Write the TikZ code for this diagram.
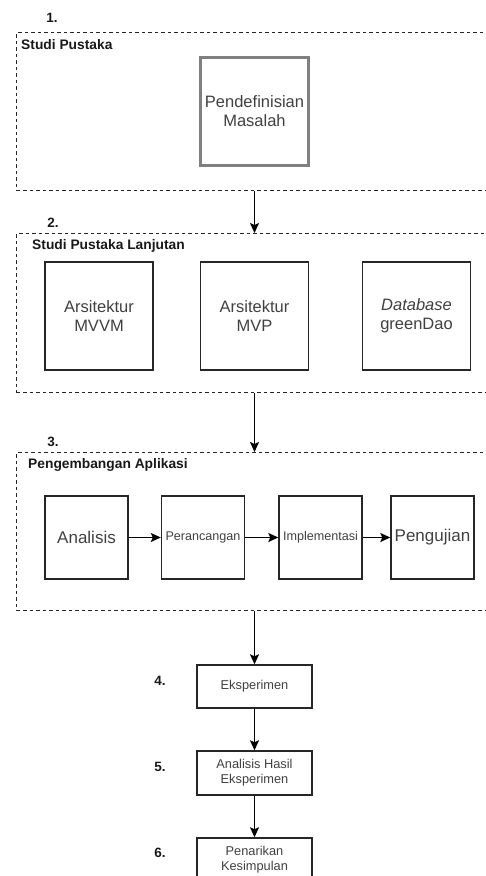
\documentclass[tikz,border=0pt]{standalone}
\usepackage{fontspec}
\setmainfont{Liberation Sans}
\usetikzlibrary{arrows.meta,positioning,calc}

\begin{document}
\begin{tikzpicture}[x=1pt,y=-1pt,
	grp/.style={draw=black!85, dash pattern=on 3.5pt off 3pt, line width=1pt, minimum width=476pt, inner sep=0pt},
	grptitle/.style={anchor=west, inner sep=0pt, font=\fontsize{13.8}{16}\selectfont\bfseries, text=black!90},
	num/.style={inner sep=0pt, font=\fontsize{13.5}{15}\selectfont\bfseries, text=black!90},
	bigbox/.style={draw=black!85, line width=1.4pt, minimum width=108pt, minimum height=108pt, inner sep=0pt, align=center, text=black!75, font=\fontsize{16.5}{19}\selectfont},
	midbox/.style={draw=black!85, line width=1.4pt, minimum width=83pt, minimum height=83pt, inner sep=0pt, align=center, text=black!75},
	smallbox/.style={draw=black!85, line width=1.4pt, minimum width=115pt, minimum height=43pt, inner sep=0pt, align=center, text=black!75, font=\fontsize{12.8}{15}\selectfont},
	arr/.style={-{Stealth[length=10pt,width=9pt,inset=2pt]}, line width=1.5pt}
	]
	\useasboundingbox (0,0) rectangle (486,876);
	\clip (0,0) rectangle (486,876);

	% dashed groups
	\node [grp, minimum height=158pt, anchor=north west] (g1) at (16,32) {};
	\node [grp, minimum height=159pt, anchor=north west] (g2) at (16,233) {};
	\node [grp, minimum height=158pt, anchor=north west] (g3) at (16,452) {};

	\node [num] (n1) at (52,18) {1.};
	\node [grptitle] (t1) at (21,45) {Studi Pustaka};
	\node [num] (n2) at (53,223) {2.};
	\node [grptitle] (t2) at (32,246) {Studi Pustaka Lanjutan};
	\node [num] (n3) at (53,442) {3.};
	\node [grptitle] (t3) at (28,465) {Pengembangan Aplikasi};

	% 1
	\node [bigbox, draw=black!50, line width=2.2pt] (masalah) at (254.5,111.5) {Pendefinisian\\Masalah};

	% 2
	\node [bigbox] (mvvm) at (99,316) {Arsitektur\\MVVM};
	\node [bigbox] (mvp) at (254.5,316) {Arsitektur\\MVP};
	\node [bigbox] (dao) at (416.5,316) {\textit{Database}\\greenDao};

	% 3
	\node [midbox, font=\fontsize{17}{19}\selectfont] (analisis) at (86.5,537.5) {Analisis};
	\node [midbox, font=\fontsize{12.6}{15}\selectfont] (rancang) at (203,537.5) {Perancangan};
	\node [midbox, font=\fontsize{12.6}{15}\selectfont] (impl) at (320.5,537.5) {Implementasi};
	\node [midbox, font=\fontsize{17}{19}\selectfont] (uji) at (432.5,537.5) {Pengujian};
	\draw [arr] (analisis) -- (rancang);
	\draw [arr] (rancang) -- (impl);
	\draw [arr] (impl) -- (uji);

	% 4 - 6
	\node [smallbox] (eks) at (254.5,686.5) {Eksperimen};
	\node [smallbox, minimum height=44pt] (hasil) at (254.5,773) {Analisis Hasil\\Eksperimen};
	\node [smallbox, minimum height=44pt] (simpul) at (254.5,860) {Penarikan\\Kesimpulan};
	\node [num] (n4) at (160,681) {4.};
	\node [num] (n5) at (160,767) {5.};
	\node [num] (n6) at (160,853) {6.};

	\draw [arr] (g1.south) -- (g2.north);
	\draw [arr] (g2.south) -- (g3.north);
	\draw [arr] (g3.south) -- (eks.north);
	\draw [arr] (eks) -- (hasil);
	\draw [arr] (hasil) -- (simpul);
\end{tikzpicture}
\end{document}
